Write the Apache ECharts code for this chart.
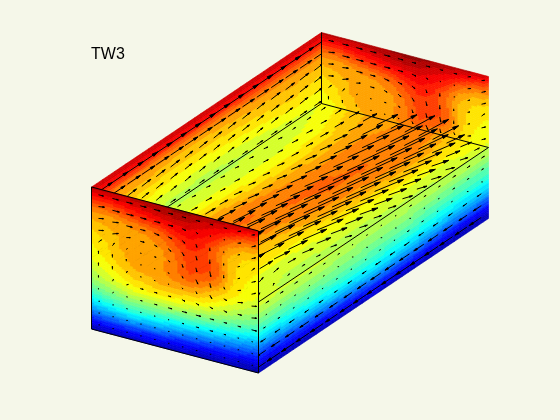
<!DOCTYPE html>
<html>
<head>
<meta charset="utf-8">
<style>
  html, body { margin: 0; padding: 0; background: #f5f7e9; }
  #chart { width: 560px; height: 420px; }
</style>
</head>
<body>
<div id="chart"></div>
<script src="https://cdn.jsdelivr.net/npm/echarts@6/dist/echarts.min.js"></script>
<script>
// temperature, 0 = deep blue, 100 = deep red
// table[a][b]: a runs along the face, b runs from its upper edge to its lower edge
var frontTemp = [
  [94, 87, 78, 72, 69, 66, 64, 62, 60, 57, 54, 49, 42, 34, 24, 13, 3],
  [95, 87, 78, 72, 70, 68, 66, 65, 63, 60, 57, 52, 45, 36, 26, 15, 4],
  [95, 88, 80, 73, 71, 70, 70, 69, 67, 64, 60, 54, 47, 38, 27, 15, 4],
  [95, 90, 83, 75, 72, 71, 71, 71, 70, 67, 63, 57, 49, 40, 28, 16, 5],
  [96, 91, 85, 77, 73, 72, 72, 72, 71, 68, 64, 57, 49, 39, 27, 15, 5],
  [97, 93, 87, 80, 75, 73, 72, 73, 72, 70, 65, 57, 48, 38, 27, 15, 5],
  [98, 94, 89, 84, 80, 77, 76, 76, 74, 70, 64, 57, 47, 36, 25, 13, 4],
  [98, 94, 90, 87, 84, 82, 81, 80, 76, 70, 63, 56, 46, 35, 24, 13, 4],
  [97, 92, 88, 85, 83, 82, 81, 79, 74, 68, 62, 54, 45, 34, 23, 12, 3],
  [96, 90, 85, 79, 76, 78, 79, 76, 70, 65, 59, 52, 43, 33, 22, 11, 3],
  [95, 88, 78, 72, 69, 68, 68, 67, 65, 61, 56, 49, 41, 31, 21, 11, 3],
  [94, 84, 75, 69, 66, 65, 64, 63, 62, 58, 53, 47, 39, 29, 20, 10, 3],
  [93, 82, 74, 68, 65, 63, 62, 61, 59, 55, 50, 44, 36, 27, 18, 9, 2]
];
// the far wall shows the same section as the upper half of the near one
var backTemp = frontTemp.map(function (col) { return col.slice(0, 9); });
var leftTemp = [
  [94, 87, 78, 72, 69, 66, 64, 62, 60],
  [94, 87, 77, 71, 68, 66, 63, 60, 57],
  [94, 87, 77, 71, 68, 65, 62, 58, 56],
  [94, 87, 76, 70, 67, 64, 61, 58, 55],
  [94, 87, 76, 70, 67, 64, 61, 57, 55],
  [94, 87, 77, 71, 68, 65, 62, 58, 56],
  [94, 87, 78, 72, 69, 66, 63, 60, 57],
  [94, 87, 78, 72, 70, 68, 65, 62, 59],
  [94, 87, 78, 72, 69, 66, 64, 62, 60]
];
var sliceTemp = [
  [60, 63, 67, 70, 71, 72, 74, 76, 74, 70, 65, 62, 59],
  [58, 61, 66, 71, 75, 77, 76, 73, 69, 65, 60, 57, 56],
  [56, 59, 65, 72, 76, 77, 75, 73, 69, 65, 60, 57, 55],
  [56, 58, 63, 70, 75, 77, 76, 74, 71, 66, 61, 58, 55],
  [56, 58, 62, 67, 73, 76, 77, 76, 74, 69, 63, 58, 55],
  [56, 58, 61, 66, 71, 75, 77, 77, 75, 71, 64, 59, 56],
  [57, 58, 62, 66, 70, 74, 76, 77, 76, 72, 66, 60, 56],
  [58, 60, 63, 67, 71, 74, 75, 76, 76, 73, 67, 60, 57],
  [60, 63, 67, 70, 71, 72, 74, 76, 74, 70, 65, 62, 59]
];
var rightTemp = [
  [59, 55, 50, 44, 36, 27, 18, 10, 4],
  [58, 55, 50, 45, 38, 30, 20, 11, 4],
  [58, 55, 51, 46, 40, 32, 22, 12, 4],
  [57, 54, 51, 47, 41, 34, 24, 13, 5],
  [56, 53, 50, 46, 41, 35, 26, 15, 6],
  [57, 54, 50, 46, 40, 34, 25, 14, 5],
  [57, 53, 49, 44, 39, 32, 23, 12, 4],
  [57, 53, 48, 43, 37, 30, 21, 10, 3],
  [57, 53, 48, 43, 37, 30, 20, 10, 3]
];

// velocity, table[b][a]
var frontFlowA = [
  [5, 6, 6, 6, 6, 5, 4, 4, 3, 3, 3, 3],
  [6, 7, 7, 6, 6, 5, 4, 2, 1, 1, 3, 4],
  [5, 6, 6, 5, 5, 4, 3, 1, 0, 0, 2, 4],
  [5, 6, 4, 4, 3, 3, 2, 1, 0, 0, 2, 3],
  [3, 2, 1, 1, 2, 2, 1, 1, 1, 0, 2, 4],
  [0, 0, 0, 0, 1, 1, 1, 2, 1, 1, 3, 4],
  [0, 0, 1, 1, 1, 1, 1, 1, 2, 3, 5, 5],
  [0, 1, 2, 3, 3, 3, 3, 3, 3, 3, 4, 5],
  [0, 1, 1, 2, 3, 4, 5, 5, 4, 3, 3, 5],
  [0, 0, 1, 1, 1, 1, 2, 3, 3, 2, 1, 1],
  [0, 0, 0, 0, 0, 0, 0, 0, 0, 0, 0, 1],
  [0, 0, 0, 0, 0, 0, 0, 0, 0, 0, 0, 0]
];
var frontFlowB = [
  [0, 0, 0, 0, 0, 0, 0, 0, 0, 0, -1, -1],
  [-1, 0, 0, 0, 0, 0, 1, 1, 0, 0, -1, -2],
  [-1, -1, 0, 0, 1, 1, 2, 3, 3, 1, -1, -2],
  [-1, -2, -1, 0, 1, 2, 3, 4, 4, 2, -1, -3],
  [-3, -3, -1, 0, 0, 1, 3, 4, 5, 3, -1, -2],
  [-3, -3, -2, 0, 0, 1, 2, 4, 4, 2, -1, -2],
  [-3, -3, -2, 0, 0, 0, 1, 2, 3, 1, -1, -1],
  [-2, -2, -1, 0, 0, 0, 1, 1, 1, 1, 0, -1],
  [-1, -1, 0, 0, 0, 0, 0, 0, 0, 0, 0, 0],
  [0, 0, 0, 0, 0, 0, 0, 0, 0, 0, 0, 0],
  [0, 0, 0, 0, 0, 0, 0, 0, 0, 0, 0, 0],
  [0, 0, 0, 0, 0, 0, 0, 0, 0, 0, 0, 0]
];
var leftFlowA = [
  [14, 15, 16, 16, 16, 16, 16, 16, 16, 16, 16, 16, 15, 15, 14, 14],
  [11, 12, 13, 13, 13, 13, 13, 13, 12, 12, 12, 12, 12, 12, 12, 11],
  [8, 8, 9, 9, 9, 9, 8, 8, 8, 8, 8, 8, 9, 9, 9, 9],
  [6, 7, 7, 7, 7, 7, 7, 7, 6, 7, 7, 7, 8, 8, 8, 8],
  [6, 6, 6, 6, 6, 6, 6, 6, 6, 6, 6, 6, 7, 7, 8, 8],
  [4, 4, 4, 4, 4, 5, 5, 5, 5, 5, 5, 6, 6, 6, 7, 7]
];
var leftFlowB = [
  [0, 0, 0, 0, 0, 0, 0, 0, 0, 0, 0, 0, 0, 0, 0, 0],
  [0, 0, 0, 0, 0, 0, 0, 0, 0, 0, 0, 0, 0, 0, 0, 0],
  [-1, -1, -1, -1, -1, -1, -1, -1, -1, -1, -1, -1, -1, -1, -1, -1],
  [-1, -1, -1, -1, -1, -1, -1, -1, -1, -1, -1, -1, -1, -1, -1, -1],
  [-1, -1, -1, -1, -1, -1, -1, -1, -1, -1, -1, -1, -1, -1, -1, -1],
  [0, 0, 0, 0, 0, 0, 0, 0, 0, 0, 0, 0, 0, 0, 0, 0]
];
var sliceFlowA = [
  [6, 6, 5, 5, 4, 3, 3, 3, 3, 3, 3, 3, 3, 3, 4, 4],
  [10, 10, 9, 8, 7, 5, 5, 4, 4, 4, 4, 4, 5, 5, 5, 6],
  [16, 16, 15, 13, 11, 9, 7, 6, 5, 5, 5, 6, 6, 7, 8, 9],
  [22, 22, 22, 20, 16, 13, 10, 8, 7, 7, 8, 8, 9, 10, 11, 12],
  [26, 26, 25, 24, 22, 18, 15, 13, 12, 12, 12, 13, 14, 15, 16, 17],
  [28, 28, 28, 27, 26, 24, 20, 18, 17, 17, 18, 19, 20, 21, 21, 22],
  [26, 26, 28, 28, 28, 26, 25, 24, 23, 24, 24, 25, 26, 26, 26, 26],
  [22, 22, 24, 26, 28, 28, 27, 27, 27, 28, 28, 28, 28, 28, 27, 26],
  [16, 16, 18, 20, 23, 25, 26, 26, 26, 26, 27, 27, 26, 25, 24, 22],
  [10, 10, 12, 13, 15, 18, 19, 20, 20, 20, 21, 21, 20, 18, 17, 14],
  [6, 6, 6, 7, 8, 10, 11, 12, 12, 12, 12, 12, 12, 11, 10, 8],
  [3, 3, 3, 3, 3, 4, 4, 5, 5, 5, 6, 6, 6, 5, 5, 4]
];
var sliceFlowB = [
  [0, 0, 0, 0, 0, 0, 1, 1, 1, 1, 1, 1, 1, 0, 0, 0],
  [0, 0, 0, 0, 0, 1, 1, 1, 1, 1, 1, 1, 1, 1, 1, 0],
  [0, 0, 1, 1, 1, 1, 1, 2, 2, 2, 2, 1, 1, 1, 1, 1],
  [0, 1, 1, 2, 3, 3, 3, 3, 3, 3, 3, 3, 3, 3, 3, 2],
  [-1, 1, 1, 3, 4, 4, 4, 4, 4, 4, 4, 4, 4, 4, 4, 4],
  [-1, 1, 2, 4, 6, 6, 6, 6, 6, 6, 6, 6, 6, 6, 6, 4],
  [-2, 0, 2, 4, 6, 7, 7, 7, 7, 7, 7, 7, 7, 7, 6, 4],
  [-3, -1, 1, 4, 6, 7, 8, 8, 8, 8, 8, 8, 8, 7, 6, 4],
  [-3, -1, 1, 4, 6, 7, 8, 8, 8, 8, 8, 8, 8, 7, 6, 4],
  [-3, -1, 1, 3, 4, 6, 7, 7, 8, 8, 8, 8, 8, 6, 6, 4],
  [-3, -2, -1, 1, 3, 4, 5, 5, 6, 6, 6, 6, 6, 6, 4, 3],
  [-2, -2, -1, 0, 1, 2, 3, 3, 3, 3, 4, 4, 4, 4, 3, 1]
];
var rightFlowA = [
  [3, 3, 3, 3, 2, 2, 1, 1, 1, 1, 2, 2, 2, 3, 3, 3],
  [1, 1, 1, 1, 1, 0, 0, 0, 0, 0, 0, 1, 1, 2, 2, 2],
  [-2, -2, -1, -1, -1, -1, -1, -1, -1, -1, -2, -2, -1, -1, 0, 0],
  [-5, -5, -5, -4, -4, -3, -4, -4, -5, -5, -5, -5, -5, -4, -4, -4],
  [-9, -9, -9, -9, -8, -8, -8, -9, -10, -10, -10, -10, -10, -9, -8, -8],
  [-13, -13, -13, -13, -13, -12, -12, -13, -14, -14, -14, -14, -14, -13, -12, -12]
];
var rightFlowB = rightFlowA.map(function (row) { return row.map(function () { return 0; }); });

// orthographic view of the box
var viewOrigin = [91.5, 187];
var viewU = [167, 44];
var viewV = [230, -154.5];
var viewW = [0, 142];

function project(p) {
  return [
    viewOrigin[0] + p[0] * viewU[0] + p[1] * viewV[0] + p[2] * viewW[0],
    viewOrigin[1] + p[0] * viewU[1] + p[1] * viewV[1] + p[2] * viewW[1]
  ];
}

var faces = {
  front: { spanA: 167, spanB: 142, point: function (a, b) { return [a, 0, b]; } },
  back: { spanA: 167, spanB: 71, point: function (a, b) { return [a, 1, b / 2]; } },
  left: { spanA: 230, spanB: 71, point: function (a, b) { return [0, a, b / 2]; } },
  slice: { spanA: 230, spanB: 167, point: function (a, b) { return [b, a, 0.5]; } },
  right: { spanA: 230, spanB: 71, point: function (a, b) { return [1, a, 0.5 + b / 2]; } }
};

var jetStops = [
  [0, 0, 0, 143], [0.125, 0, 0, 255], [0.375, 0, 255, 255],
  [0.625, 255, 255, 0], [0.875, 255, 0, 0], [1, 128, 0, 0]
];
var colorLevels = 30;

function jet(t) {
  var q = Math.max(0, Math.min(colorLevels - 1, Math.floor(t / 100 * colorLevels))) + 0.5;
  q = q / colorLevels;
  for (var i = 1; i < jetStops.length; i++) {
    if (q <= jetStops[i][0]) {
      var s0 = jetStops[i - 1];
      var s1 = jetStops[i];
      var f = (q - s0[0]) / (s1[0] - s0[0]);
      return 'rgb(' + Math.round(s0[1] + (s1[1] - s0[1]) * f) + ',' +
        Math.round(s0[2] + (s1[2] - s0[2]) * f) + ',' +
        Math.round(s0[3] + (s1[3] - s0[3]) * f) + ')';
    }
  }
  return 'rgb(128,0,0)';
}

// one series per face, every grid cell is shaded like a contour fill
function cellSeries(face, table) {
  var cells = [];
  var nA = table.length - 1;
  var nB = table[0].length - 1;
  for (var i = 0; i < nA; i++) {
    for (var j = 0; j < nB; j++) {
      cells.push([i, j, table[i][j], table[i + 1][j], table[i][j + 1], table[i + 1][j + 1]]);
    }
  }
  var sub = 5;
  return {
    type: 'custom',
    silent: true,
    animation: false,
    progressive: 0,
    data: cells,
    renderItem: function (params, api) {
      var ci = api.value(0);
      var cj = api.value(1);
      var t00 = api.value(2), t10 = api.value(3), t01 = api.value(4), t11 = api.value(5);
      var children = [];
      for (var m = 0; m < sub; m++) {
        for (var n = 0; n < sub; n++) {
          var fa = (m + 0.5) / sub;
          var fb = (n + 0.5) / sub;
          var t = t00 * (1 - fa) * (1 - fb) + t10 * fa * (1 - fb) + t01 * (1 - fa) * fb + t11 * fa * fb;
          var a0 = (ci + m / sub) / nA, a1 = (ci + (m + 1) / sub) / nA;
          var b0 = (cj + n / sub) / nB, b1 = (cj + (n + 1) / sub) / nB;
          var color = jet(t);
          children.push({
            type: 'polygon',
            shape: {
              points: [
                api.coord(project(face.point(a0, b0))),
                api.coord(project(face.point(a1, b0))),
                api.coord(project(face.point(a1, b1))),
                api.coord(project(face.point(a0, b1)))
              ]
            },
            style: { fill: color, stroke: color, lineWidth: 0.6 }
          });
        }
      }
      return { type: 'group', children: children };
    }
  };
}

// rowStart moves the first row of arrows away from the upper edge, 0.5 is a centred row
function arrowSeries(face, flowA, flowB, rowStart) {
  var items = [];
  var nB = flowA.length;
  var nA = flowA[0].length;
  var start = rowStart === undefined ? 0.5 : rowStart;
  for (var k = 0; k < nB; k++) {
    for (var i = 0; i < nA; i++) {
      items.push([(i + 0.5) / nA, (k + start) / nB, flowA[k][i], flowB[k][i]]);
    }
  }
  return {
    type: 'custom',
    silent: true,
    animation: false,
    progressive: 0,
    data: items,
    renderItem: function (params, api) {
      var a = api.value(0);
      var b = api.value(1);
      var from = api.coord(project(face.point(a, b)));
      var to = api.coord(project(face.point(a + api.value(2) / face.spanA, b + api.value(3) / face.spanB)));
      var dx = to[0] - from[0];
      var dy = to[1] - from[1];
      var len = Math.sqrt(dx * dx + dy * dy);
      var style = { stroke: '#000', fill: '#000', lineWidth: 1 };
      if (len < 1) {
        return { type: 'line', shape: { x1: from[0], y1: from[1], x2: from[0] + 1.5, y2: from[1] }, style: style };
      }
      // the head stops growing on the long arrows
      var head = Math.min(len * 0.3, 6);
      var ux = dx / len;
      var uy = dy / len;
      var back = [to[0] - ux * head, to[1] - uy * head];
      var side = [-uy * head * 0.24, ux * head * 0.24];
      return {
        type: 'polyline',
        shape: {
          points: [from, to, [back[0] + side[0], back[1] + side[1]], [back[0] - side[0], back[1] - side[1]], to]
        },
        style: style
      };
    }
  };
}

function edgeSeries(edges) {
  return {
    type: 'custom',
    silent: true,
    animation: false,
    data: edges,
    renderItem: function (params, api) {
      var from = api.coord(project([api.value(0), api.value(1), api.value(2)]));
      var to = api.coord(project([api.value(3), api.value(4), api.value(5)]));
      return {
        type: 'line',
        shape: { x1: from[0], y1: from[1], x2: to[0], y2: to[1] },
        style: { stroke: '#000', lineWidth: 1 }
      };
    }
  };
}

var innerEdges = [
  [0, 1, 0, 0, 1, 0.5],
  [0, 1, 0.5, 1, 1, 0.5],
  [0, 1, 0.5, 0, 0, 0.5],
  [1, 1, 0.5, 1, 0, 0.5]
];
var frontEdges = [
  [0, 0, 0, 1, 0, 0],
  [1, 0, 0, 1, 0, 1],
  [1, 0, 1, 0, 0, 1],
  [0, 0, 1, 0, 0, 0]
];

var chart = echarts.init(document.getElementById('chart'), null, { renderer: 'canvas' });
chart.setOption({
  backgroundColor: '#f5f7e9',
  animation: false,
  title: {
    text: 'TW3',
    left: 91,
    top: 47,
    padding: 0,
    textStyle: { color: '#000', fontWeight: 'normal', fontSize: 16, fontFamily: 'Liberation Sans' }
  },
  grid: { left: 0, right: 0, top: 0, bottom: 0 },
  xAxis: { type: 'value', min: 0, max: 560, show: false },
  yAxis: { type: 'value', min: 0, max: 420, inverse: true, show: false },
  series: [
    cellSeries(faces.left, leftTemp),
    arrowSeries(faces.left, leftFlowA, leftFlowB, 0.8),
    cellSeries(faces.back, backTemp),
    arrowSeries(faces.back, frontFlowA.slice(0, 6), frontFlowB.slice(0, 6)),
    cellSeries(faces.slice, sliceTemp),
    arrowSeries(faces.slice, sliceFlowA, sliceFlowB),
    cellSeries(faces.right, rightTemp),
    arrowSeries(faces.right, rightFlowA, rightFlowB),
    edgeSeries(innerEdges),
    cellSeries(faces.front, frontTemp),
    arrowSeries(faces.front, frontFlowA, frontFlowB),
    edgeSeries(frontEdges)
  ]
});
</script>
</body>
</html>
